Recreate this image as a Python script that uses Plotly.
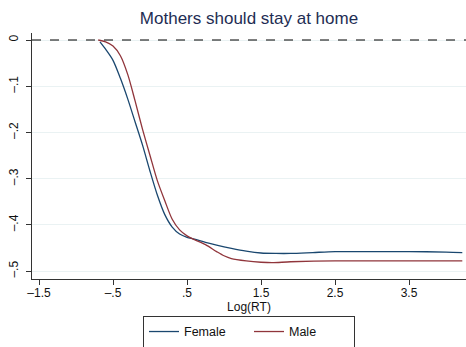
import plotly.graph_objects as go

# Curvas (Log(RT) vs efecto)
female_x = [-0.676, -0.6, -0.5, -0.4, -0.3, -0.2, -0.1, 0.0, 0.1, 0.2, 0.3, 0.4, 0.5,
            0.6, 0.75, 0.9, 1.1, 1.3, 1.5, 1.7, 1.9, 2.2, 2.5, 3.0, 3.5, 4.0, 4.22]
female_y = [-0.004, -0.020, -0.044, -0.083, -0.128, -0.178, -0.228, -0.284, -0.336, -0.378,
            -0.405, -0.420, -0.427, -0.431, -0.438, -0.444, -0.451, -0.457, -0.461, -0.462,
            -0.462, -0.460, -0.458, -0.458, -0.458, -0.459, -0.460]

male_x = [-0.70, -0.6, -0.5, -0.4, -0.3, -0.2, -0.1, 0.0, 0.1, 0.2, 0.3, 0.4, 0.5, 0.6,
          0.75, 0.9, 1.0, 1.1, 1.3, 1.5, 1.65, 1.9, 2.5, 3.0, 3.5, 4.22]
male_y = [0.0, -0.004, -0.013, -0.034, -0.075, -0.133, -0.194, -0.250, -0.305, -0.348,
          -0.388, -0.411, -0.424, -0.432, -0.443, -0.458, -0.467, -0.473, -0.478, -0.481,
          -0.482, -0.480, -0.478, -0.478, -0.478, -0.478]

x_ticks = [-1.5, -0.5, 0.5, 1.5, 2.5, 3.5]
x_labels = ["\u20131.5", "\u2013.5", ".5", "1.5", "2.5", "3.5"]
y_ticks = [0, -0.1, -0.2, -0.3, -0.4, -0.5]
y_labels = ["0", "\u2013.1", "\u2013.2", "\u2013.3", "\u2013.4", "\u2013.5"]

font = "Liberation Sans, Arial, sans-serif"

fig = go.Figure()
fig.add_trace(go.Scatter(x=female_x, y=female_y, mode="lines", name="Female",
                         line=dict(color="#1a476f", width=1.3, shape="spline", smoothing=0.8)))
fig.add_trace(go.Scatter(x=male_x, y=male_y, mode="lines", name="Male",
                         line=dict(color="#90353b", width=1.3, shape="spline", smoothing=0.8)))

# linea de referencia en cero
fig.add_shape(type="line", xref="paper", x0=0, x1=1, yref="y", y0=0, y1=0,
              line=dict(color="black", width=1.2, dash="dash"))

fig.update_layout(
    width=466, height=347,
    margin=dict(l=32, r=0, t=33, b=68, autoexpand=False),
    paper_bgcolor="white", plot_bgcolor="white",
    font=dict(family=font, size=12, color="#111111"),
    title=dict(text="Mothers should stay at home", x=0.5, xref="paper",
               y=1 - 18 / 347, yref="container", yanchor="middle", xanchor="center",
               font=dict(size=17, color="#1e2d53")),
    legend=dict(orientation="h", x=0.5, xanchor="center", y=-0.15, yanchor="top",
                bordercolor="#333333", borderwidth=1, entrywidth=60,
                font=dict(size=12.5)),
    xaxis=dict(range=[-1.5946, 4.27], tickvals=x_ticks, ticktext=x_labels,
               showgrid=False, zeroline=False, showline=True, linecolor="#333333",
               linewidth=1, ticks="outside", ticklen=5, tickcolor="#333333",
               automargin=False, ticklabelstandoff=-2,
               title=dict(text="Log(RT)", standoff=0, font=dict(size=12))),
    yaxis=dict(range=[-0.5173, 0.01515], tickvals=y_ticks, ticktext=y_labels,
               showgrid=True, gridcolor="#eaf2f3", gridwidth=1, zeroline=False,
               showline=True, linecolor="#333333", linewidth=1, ticks="outside",
               ticklen=5, tickcolor="#333333", tickangle=-90, automargin=False,
               ticklabelstandoff=3),
)

# quitar el margen del body para que el grafico ocupe la ventana
fig.write_html("out.html", config={"displayModeBar": False},
               post_script="document.body.style.margin='0';")
